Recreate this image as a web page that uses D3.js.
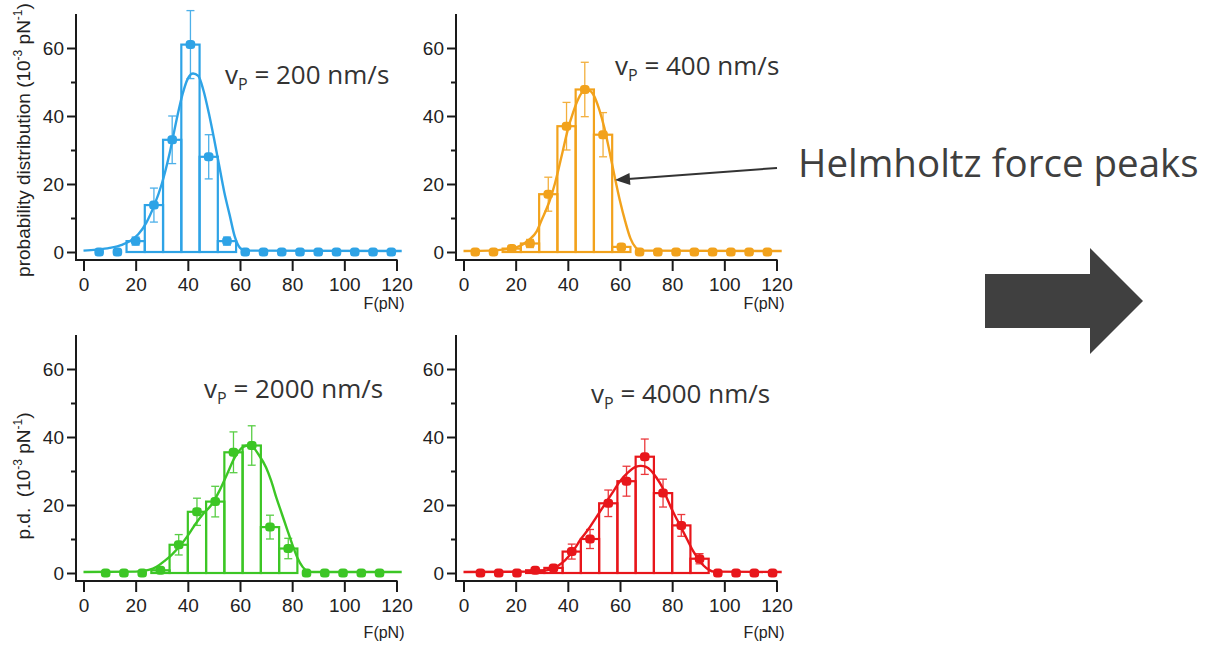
<!DOCTYPE html>
<html><head><meta charset="utf-8">
<script src="https://cdn.jsdelivr.net/npm/d3@7"></script>
<style>
html,body{margin:0;padding:0;background:#fff;}
svg{display:block;}
</style></head>
<body><svg id="c" width="1210" height="654"></svg>
<script>
// ---------------- data ----------------
const binWidth = 7;
const xTicks = [0, 20, 40, 60, 80, 100, 120];
const yMajorTicks = [0, 20, 40, 60];
const yMinorTicks = [10, 30, 50];
const speedLabels = ["200", "400", "2000", "4000"];

const centers200 = [6,13,20,27,34,41,48,55,62,69,76,83,90,97,104,111,118];
const values200  = [0,0,3.2,13.8,33,61,28,3.2,0,0,0,0,0,0,0,0,0];
const errors200  = [0,0,1.2,5,7,10,6.5,1.2,0,0,0,0,0,0,0,0,0];
const fit200 = [[0,0.4],[5,0.7],[10,1.2],[15,2.2],[18,3.3],[21,5.2],[24,8.5],[27,13.5],[30,20],[33,29],[36,40],[38,46.5],[40,51],[42,52.5],[44,51.8],[46,47.5],[48,41],[50,33.5],[52,25.5],[54,17.5],[56,11],[58,4.5],[60,1.2],[62,0.4],[122,0.3]];

const centers400 = [4.5,11.5,18.5,25.5,32.5,39.5,46.5,53.5,60.5,67.5,74.5,81.5,88.5,95.5,102.5,109.5,116.5];
const values400  = [0,0,1,2.5,17,37,47.8,34.5,1.5,0,0,0,0,0,0,0,0];
const errors400  = [0,0,0.8,1.2,5,7,8,6.5,0.8,0,0,0,0,0,0,0,0];
const fit400 = [[0,0.3],[10,0.4],[15,0.7],[20,1.3],[25,3.5],[28,6],[30,9.5],[33,15],[35,20],[38,29.5],[40,36],[42,41],[44,45],[46,47.3],[48,47.5],[50,46],[52,42],[54,36.5],[56,29.5],[58,22],[60,15],[62,9],[64,4],[66,1.3],[68,0.4],[122,0.3]];

const centers2000 = [8.5,15.5,22.5,29.5,36.5,43.5,50.5,57.5,64.5,71.5,78.5,85.5,92.5,99.5,106.5,113.5];
const values2000  = [0,0,0,0.8,8.3,18,21,35.5,37.5,13.5,7.2,0,0,0,0,0];
const errors2000  = [0,0,0,0.5,3,4,4.5,6,5.8,3.5,3,0,0,0,0,0];
const fit2000 = [[0,0.3],[20,0.4],[25,0.9],[28,1.8],[31,3.5],[34,5.5],[37,8],[40,11],[43,14.5],[46,17.5],[49,20],[52,24],[55,29],[58,34],[61,37],[63,37.5],[65,37],[67,35],[70,31],[72,27],[74,22],[76,17.5],[78,13],[80,8.5],[82,4.5],[84,1.8],[86,0.5],[88,0.3],[122,0.3]];

const centers4000 = [6.5,13.5,20.5,27.5,34.5,41.5,48.5,55.5,62.5,69.5,76.5,83.5,90.5,97.5,104.5,111.5,118.5];
const values4000  = [0,0,0,0.8,1.5,6.3,10,20.5,27,34.2,23.5,14,4.2,0,0,0,0];
const errors4000  = [0,0,0,0.4,0.6,2.2,2.8,3.9,4.4,5.2,4.1,3.2,1.5,0,0,0,0];
const fit4000 = [[0,0.3],[25,0.4],[30,0.6],[33,1],[36,2],[39,3.8],[42,6.5],[45,10],[48,13],[51,16.5],[54,20],[57,23.5],[60,27],[63,29.5],[66,31.2],[68,31.5],[70,31.2],[72,30],[74,28],[76,25.5],[78,22],[80,18.5],[82,15.5],[84,12.5],[86,9.5],[88,6.5],[90,4.2],[92,2.2],[94,1],[96,0.4],[122,0.3]];

// ---------------- layout ----------------
const svg = d3.select("#c");
const FONT = '"Liberation Sans", Arial, Helvetica, sans-serif';
const panels = [
  {col:0,row:0,color:"#2ea3e6",centers:centers200,values:values200,errors:errors200,fit:fit200,speed:speedLabels[0],lx:225,ly:84,fy:309},
  {col:1,row:0,color:"#f2a21c",centers:centers400,values:values400,errors:errors400,fit:fit400,speed:speedLabels[1],lx:615,ly:75,fy:309},
  {col:0,row:1,color:"#3cc625",centers:centers2000,values:values2000,errors:errors2000,fit:fit2000,speed:speedLabels[2],lx:204,ly:398,fy:638},
  {col:1,row:1,color:"#e8161b",centers:centers4000,values:values4000,errors:errors4000,fit:fit4000,speed:speedLabels[3],lx:591,ly:403,fy:638}
];
const colX0 = [83.5, 463.5], colAxisX = [76, 456];
const rowY0 = [252, 573];

panels.forEach(p => {
  const x = d3.scaleLinear().domain([0,120]).range([colX0[p.col], colX0[p.col] + 313]);
  const y = d3.scaleLinear().domain([0,70]).range([rowY0[p.row], rowY0[p.row] - 238]);
  const axX = colAxisX[p.col];
  const axY = rowY0[p.row] + 8;
  const g = svg.append("g");

  g.append("line").attr("x1",axX).attr("x2",axX).attr("y1",y(70)).attr("y2",axY+1)
    .attr("stroke","#1a1a1a").attr("stroke-width",2);
  g.append("line").attr("x1",axX-1).attr("x2",x(120)+1).attr("y1",axY).attr("y2",axY)
    .attr("stroke","#1a1a1a").attr("stroke-width",2);

  const xa = g.append("g").attr("transform",`translate(0,${axY})`)
    .call(d3.axisBottom(x).tickValues(xTicks).tickSize(11).tickPadding(7).tickFormat(d3.format("d")));
  xa.select(".domain").remove();
  xa.selectAll(".tick line").attr("stroke","#1a1a1a").attr("stroke-width",2);
  xa.selectAll(".tick text").attr("font-size",19).attr("fill","#222").attr("font-family",FONT);

  const ya = g.append("g").attr("transform",`translate(${axX},0)`)
    .call(d3.axisLeft(y).tickValues(yMajorTicks).tickSize(9).tickPadding(3).tickFormat(d3.format("d")));
  ya.select(".domain").remove();
  ya.selectAll(".tick line").attr("stroke","#1a1a1a").attr("stroke-width",2);
  ya.selectAll(".tick text").attr("font-size",19).attr("fill","#222").attr("font-family",FONT);
  const ym = g.append("g").attr("transform",`translate(${axX},0)`)
    .call(d3.axisLeft(y).tickValues(yMinorTicks).tickSize(5).tickFormat(""));
  ym.select(".domain").remove();
  ym.selectAll(".tick line").attr("stroke","#1a1a1a").attr("stroke-width",2);

  g.append("text").attr("x",x(120)+8).attr("y",p.fy).attr("text-anchor","end")
    .attr("font-family",FONT).attr("font-size",16).attr("fill","#222").text("F(pN)");

  const data = p.centers.map((c,i)=>({c, v:p.values[i], e:p.errors[i]}));

  g.append("g").selectAll("rect").data(data.filter(d=>d.v>0)).join("rect")
    .attr("x",d=>x(d.c-binWidth/2)).attr("width",d=>x(d.c+binWidth/2)-x(d.c-binWidth/2))
    .attr("y",d=>y(d.v)).attr("height",d=>y(0)-y(d.v))
    .attr("fill","none").attr("stroke",p.color).attr("stroke-width",2.2);

  g.append("path").datum(p.fit)
    .attr("d", d3.line().x(d=>x(d[0])).y(d=>y(d[1])).curve(d3.curveMonotoneX))
    .attr("fill","none").attr("stroke",p.color).attr("stroke-width",2.4);

  const eb = g.append("g").attr("stroke",p.color).attr("stroke-width",1.3).attr("opacity",0.85);
  data.filter(d=>d.e>0).forEach(d=>{
    eb.append("line").attr("x1",x(d.c)).attr("x2",x(d.c)).attr("y1",y(d.v-d.e)).attr("y2",y(d.v+d.e));
    eb.append("line").attr("x1",x(d.c)-4).attr("x2",x(d.c)+4).attr("y1",y(d.v-d.e)).attr("y2",y(d.v-d.e));
    eb.append("line").attr("x1",x(d.c)-4).attr("x2",x(d.c)+4).attr("y1",y(d.v+d.e)).attr("y2",y(d.v+d.e));
  });

  g.append("g").selectAll("rect").data(data).join("rect")
    .attr("x",d=>x(d.c)-4.8).attr("y",d=>y(d.v)-4.5).attr("width",9.6).attr("height",9)
    .attr("rx",3.5).attr("fill",p.color);

  const t = svg.append("text").attr("x",p.lx).attr("y",p.ly)
    .attr("font-family",'"Open Sans", sans-serif').attr("font-size",26).attr("fill","#333");
  t.append("tspan").text("v");
  t.append("tspan").attr("font-size",16).attr("dy",6).text("P");
  t.append("tspan").attr("dy",-6).text(` = ${p.speed} nm/s`);
});

function yTitle(cx, cy, main){
  const t = svg.append("text").attr("transform",`translate(${cx},${cy}) rotate(-90)`)
    .attr("text-anchor","middle").attr("font-family",FONT).attr("font-size",19).attr("fill","#222");
  t.append("tspan").text(main + "(10");
  t.append("tspan").attr("font-size",12).attr("dy",-8).text("-3");
  t.append("tspan").attr("dy",8).text(" pN");
  t.append("tspan").attr("font-size",12).attr("dy",-8).text("-1");
  t.append("tspan").attr("dy",8).text(")");
}
yTitle(30, 140, "probability distribution ");
yTitle(30, 476, "p.d.\u00a0\u00a0");

svg.append("text").attr("x",798).attr("y",177).attr("font-family",'"Open Sans", sans-serif')
  .attr("font-size",38.5).attr("fill","#3f3f3f").text("Helmholtz force peaks");
svg.append("line").attr("x1",777).attr("y1",168).attr("x2",628).attr("y2",179)
  .attr("stroke","#333").attr("stroke-width",2);
svg.append("polygon").attr("points","615,180 630.4,184.9 629.5,172.9").attr("fill","#333");

svg.append("polygon")
  .attr("points","985,274 1090,274 1090,248 1143,301 1090,354 1090,328 985,328")
  .attr("fill","#404040");
</script></body></html>
